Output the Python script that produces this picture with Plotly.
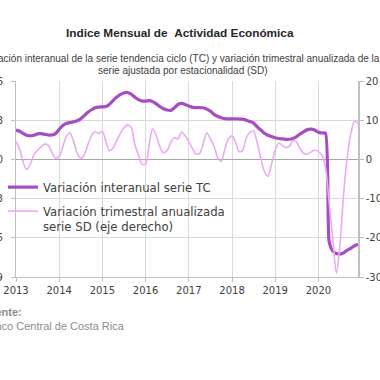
import pandas as pd
import plotly.graph_objects as go

start_month = "2013-01-01"
n_months = 96
months = pd.date_range(start_month, periods=n_months, freq="MS")

tc_interanual = [
    2.25, 2.15, 2.0, 1.85, 1.8, 1.85, 1.95, 1.97, 1.92, 1.87, 1.87, 1.97,
    2.3, 2.6, 2.75, 2.82, 2.87, 2.95, 3.1, 3.35, 3.6, 3.8, 3.95, 4.0,
    4.02, 4.05, 4.2, 4.5, 4.75, 4.95, 5.08, 5.12, 5.0, 4.78, 4.58, 4.48,
    4.46, 4.5, 4.42, 4.25, 4.05, 3.88, 3.78, 3.75, 3.95, 4.2, 4.28, 4.2,
    4.08, 3.98, 3.97, 3.97, 3.95, 3.85, 3.7, 3.45, 3.3, 3.18, 3.12, 3.1,
    3.1, 3.1, 3.09, 3.08, 3.0, 2.9, 2.8, 2.5, 2.25, 2.0, 1.85, 1.75,
    1.66, 1.6, 1.57, 1.54, 1.54, 1.6, 1.75, 1.95, 2.13, 2.28, 2.32, 2.25,
    2.08, 2.02, 2.0, -6.3, -7.0, -7.2, -7.25, -7.15, -6.95, -6.8, -6.62, -6.5,
]

sd_trimestral = [
    4.6, 2.5, -0.5, -2.6, -1.3, 1.2, 2.3, 3.2, 3.9, 3.6, 1.8, 0.3,
    0.8, 3.2, 5.8, 6.8, 4.8, 1.8, 0.3, 1.2, 3.8, 6.0, 7.1, 6.6,
    7.2, 4.4, 2.2, 2.9, 4.7, 6.6, 8.0, 8.8, 8.2, 4.0, 1.3, -1.2,
    -1.2, 3.8, 7.8, 6.0, 3.2, 1.7, 2.2, 4.3, 5.6, 5.2, 7.0, 6.0,
    4.5, 2.8, 1.4, 1.5, 3.8, 6.8, 5.3, 3.5, 0.5, -0.5, 2.5, 5.2,
    6.0, 4.3, 2.0, 2.3, 5.5, 6.9, 7.3, 4.3, 0.4, -3.0, -4.3, -1.2,
    2.3, 4.2, 3.6, 3.0, 3.3, 4.8, 4.4, 2.6, 1.5, 1.4, 1.9, 2.4,
    2.0, 1.0, -2.0, -11.0, -20.0, -29.0, -22.0, -9.0, 0.5, 6.5, 9.8, 9.2,
]

left_ticks = [6, 3, 0, -3, -6, -9]
left_ticktext = ["6", "3", "0", "-3", "-6", "-9"]
right_ticks = [20, 10, 0, -10, -20, -30]
right_ticktext = ["20", "10", "0", "-10", "-20", "-30"]
grid_ticks = [3, 0, -3, -6]

name_tc = "Variación interanual serie TC"
name_sd = "Variación trimestral anualizada<br>serie SD (eje derecho)"
title = "Indice Mensual de \u00a0Actividad Económica"
subtitle_1 = "Variación interanual de la serie tendencia ciclo (TC) y variación trimestral anualizada de la"
subtitle_2 = "serie ajustada por estacionalidad (SD)"
source = "<b>Fuente:</b><br>Banco Central de Costa Rica"

C_TC = "#A64DC2"
C_SD = "#EBA9F6"
GRID = "#D9D9D9"
AX = "#BFBFBF"
TXT = "#404040"
FONT = "DejaVu Sans"

L, R, T, B = 16, 22, 81, 103
PW, PH = 380 - L - R, 380 - T - B


def px_x(p):
    return (p - L) / PW


def px_y(p):
    return 1 - (p - T) / PH


fig = go.Figure()
fig.add_trace(go.Scatter(x=[months[0]], y=[0], yaxis="y3", mode="markers",
                         marker=dict(opacity=0), showlegend=False, hoverinfo="skip"))
fig.add_trace(go.Scatter(
    x=months, y=sd_trimestral, name=name_sd, yaxis="y2", legendgroup="sd",
    mode="lines", line=dict(color=C_SD, width=1.6, shape="spline", smoothing=0.8),
    legendrank=2,
))
fig.add_trace(go.Scatter(
    x=months, y=tc_interanual, name=name_tc, yaxis="y", legendgroup="tc",
    mode="lines", line=dict(color=C_TC, width=3.2, shape="spline", smoothing=0.6),
    legendrank=1,
))

fig.update_layout(
    width=380, height=380,
    margin=dict(l=L, r=R, t=T, b=B, autoexpand=False),
    paper_bgcolor="white", plot_bgcolor="rgba(0,0,0,0)",
    font=dict(family=FONT, size=10, color=TXT),
    showlegend=True,
    legend=dict(x=px_x(3), y=px_y(173), xanchor="left", yanchor="top", bgcolor="rgba(0,0,0,0)",
                font=dict(family=FONT, size=11.7, color=TXT), valign="top",
                traceorder="grouped", tracegroupgap=5),
    xaxis=dict(
        type="date", range=["2013-01-01", "2020-12-01"],
        dtick="M12", tick0="2013-01-01", tickformat="%Y",
        showgrid=True, gridcolor=GRID, gridwidth=1,
        showline=True, linecolor=AX, linewidth=1,
        ticks="outside", ticklen=4, tickcolor=AX,
        tickfont=dict(family=FONT, size=10, color=TXT),
        zeroline=False,
    ),
    yaxis=dict(
        range=[-9, 6], tickvals=left_ticks, ticktext=left_ticktext,
        showgrid=False, zeroline=False,
        showline=True, linecolor=AX, linewidth=1,
        ticks="outside", ticklen=4, tickcolor=AX, ticklabelstandoff=6,
        tickfont=dict(family=FONT, size=10, color=TXT),
    ),
    yaxis2=dict(
        range=[-30, 20], tickvals=right_ticks, ticktext=right_ticktext,
        overlaying="y", side="right", showgrid=False, zeroline=False,
        showline=True, linecolor=AX, linewidth=1.5,
        ticks="outside", ticklen=4, tickcolor=AX,
        tickfont=dict(family=FONT, size=10, color=TXT),
    ),
    yaxis3=dict(
        range=[-9, 6], tickvals=grid_ticks, overlaying="y", side="left",
        showgrid=True, gridcolor=GRID, gridwidth=1, showticklabels=False,
        zeroline=True, zerolinecolor="#A6A6A6", zerolinewidth=1, showline=False, ticks="",
    ),
)

fig.add_annotation(text="<b>" + title + "</b>", xref="paper", yref="paper", x=px_x(180), y=px_y(33),
                   xanchor="center", yanchor="middle", showarrow=False,
                   font=dict(family="Liberation Sans", size=11.8, color="#262626"))
fig.add_annotation(text=subtitle_1, xref="paper", yref="paper", x=px_x(180), y=px_y(58),
                   xanchor="center", yanchor="middle", showarrow=False,
                   font=dict(family="Liberation Sans", size=10, color=TXT))
fig.add_annotation(text=subtitle_2, xref="paper", yref="paper", x=px_x(183), y=px_y(70.5),
                   xanchor="center", yanchor="middle", showarrow=False,
                   font=dict(family="Liberation Sans", size=10, color=TXT))
fig.add_annotation(text=source, xref="paper", yref="paper", x=px_x(-20), y=px_y(319),
                   xanchor="left", yanchor="middle", align="left", showarrow=False,
                   font=dict(family="Liberation Sans", size=11, color="#8C8C8C"))

fig.write_html("out.html", config={"displayModeBar": False},
               post_script="document.body.style.margin='0px';document.body.style.overflow='hidden';")
